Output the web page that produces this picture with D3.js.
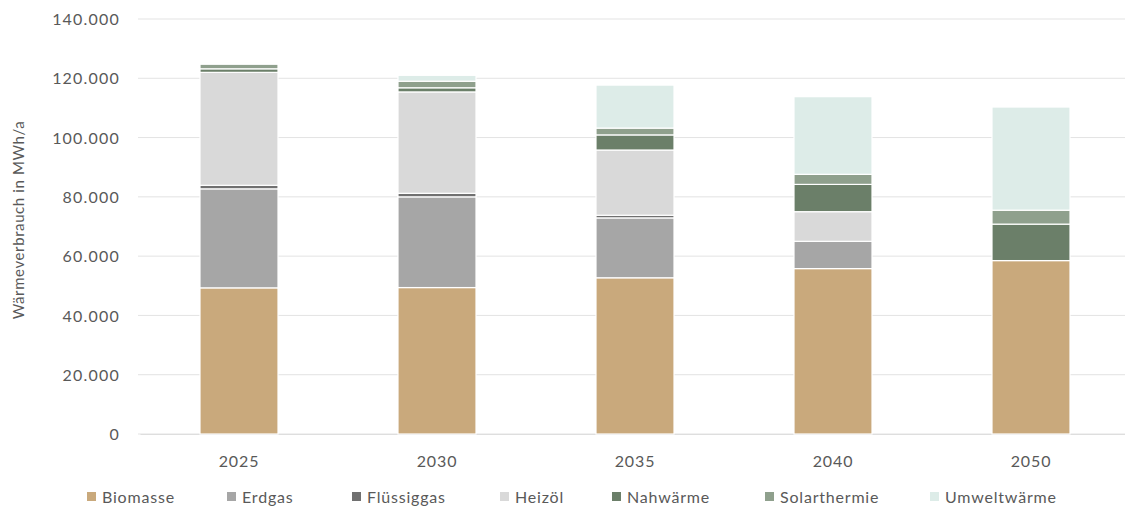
<!DOCTYPE html>
<html><head><meta charset="utf-8">
<script src="https://cdn.jsdelivr.net/npm/d3@7"></script>
<style>body{margin:0;background:#fff}svg{display:block}text{font-family:Lato,"Open Sans",sans-serif}</style>
</head><body><svg id="c" width="1125" height="513"></svg>
<script>
const years = ["2025","2030","2035","2040","2050"];
const seriesNames = ["Biomasse","Erdgas","Flüssiggas","Heizöl","Nahwärme","Solarthermie","Umweltwärme"];
const biomasse     = [49300, 49400, 52700, 55800, 58500];
const erdgas       = [33400, 30600, 20200,  9200,     0];
const fluessiggas  = [ 1200,  1200,   900,     0,     0];
const heizoel      = [38100, 34200, 22000, 10000,     0];
const nahwaerme    = [ 1200,  1400,  5100,  9200, 12300];
const solarthermie = [ 1600,  2200,  2300,  3400,  4700];
const umweltwaerme = [  400,  2000, 14500, 26200, 34800];
const yTicks = [0,20000,40000,60000,80000,100000,120000,140000];
const colors = ["#c9a97c","#a6a6a6","#707070","#d9d9d9","#6b7f69","#8fa08d","#ddece8"];

const values = [biomasse, erdgas, fluessiggas, heizoel, nahwaerme, solarthermie, umweltwaerme];
const rows = years.map((y,i)=>{const r={year:y}; seriesNames.forEach((s,j)=>r[s]=values[j][i]); return r;});
const stack = d3.stack().keys(seriesNames)(rows);

const svg = d3.select("#c");
const x = d3.scaleBand().domain(years).range([140,1130]).paddingInner(0.606).paddingOuter(0.303);
const y = d3.scaleLinear().domain([0,140000]).range([434,19]);
const fmt = d => d3.format(",")(d).replace(/,/g,".");

svg.append("g").selectAll("line").data(yTicks).join("line")
  .attr("x1",138).attr("x2",1125).attr("y1",d=>y(d)).attr("y2",d=>y(d))
  .attr("stroke","#e3e3e3").attr("stroke-width",1);

const ya = svg.append("g").attr("transform","translate(120,0)")
  .call(d3.axisLeft(y).tickValues(yTicks).tickFormat(fmt).tickSize(0).tickPadding(0));
ya.select(".domain").remove();
ya.selectAll("text").attr("fill","#595959").style("font-size","16px").style("letter-spacing","1.2px").attr("dy","0.35em");

const xa = svg.append("g").attr("transform","translate(0,434)")
  .call(d3.axisBottom(x).tickSize(0).tickPadding(22));
xa.select(".domain").attr("stroke","#dedede");
xa.selectAll("text").attr("fill","#595959").style("font-size","16px").style("letter-spacing","0.9px");

svg.append("g").selectAll("g").data(stack).join("g")
  .attr("fill",(d,i)=>colors[i])
  .selectAll("rect").data(d=>d).join("rect")
  .attr("x",d=>x(d.data.year)).attr("width",x.bandwidth())
  .attr("y",d=>y(d[1])).attr("height",d=>Math.max(0,y(d[0])-y(d[1])))
  .attr("stroke","#fff").attr("stroke-width",1.2);

svg.append("text").attr("transform","translate(24,220) rotate(-90)")
  .attr("text-anchor","middle").attr("fill","#595959").style("font-size","15px").style("letter-spacing","0.6px")
  .text("Wärmeverbrauch in MWh/a");

// legend layout (swatch left edges)
const legendX = [87,227,352,500,612,765,930];
const lg = svg.append("g").attr("transform","translate(0,497)");
seriesNames.forEach((s,i)=>{
  const g = lg.append("g").attr("transform",`translate(${legendX[i]},0)`);
  g.append("rect").attr("x",0).attr("y",-5).attr("width",9).attr("height",9).attr("fill",colors[i]);
  g.append("text").attr("x",15).attr("y",0).attr("dy","0.35em").attr("fill","#595959")
    .style("font-size","16px").style("letter-spacing","0.8px").text(s);
});
</script></body></html>
